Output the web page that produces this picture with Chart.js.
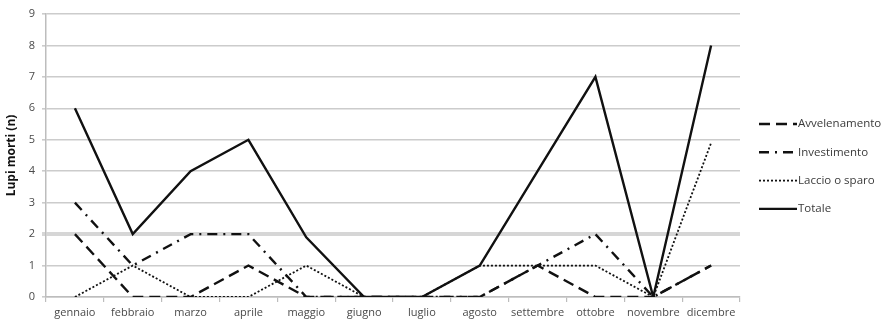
<!DOCTYPE html>
<html>
<head>
<meta charset="utf-8">
<script src="https://cdn.jsdelivr.net/npm/chart.js@4/dist/chart.umd.min.js"></script>
<style>
  html, body { margin: 0; padding: 0; background: #ffffff; }
  #wrap { position: relative; width: 884px; height: 325px; }
</style>
</head>
<body>
<div id="wrap"><canvas id="c" width="884" height="325"></canvas></div>
<script>
// Lupi morti per mese, suddivisi per causa
const mesi = ['gennaio', 'febbraio', 'marzo', 'aprile', 'maggio', 'giugno',
              'luglio', 'agosto', 'settembre', 'ottobre', 'novembre', 'dicembre'];
const avvelenamento = [2, 0, 0, 1, 0, 0, 0, 0, 1, 0, 0, 1];
const investimento  = [3, 1, 2, 2, 0, 0, 0, 0, 1, 2, 0, 1];
const laccioSparo   = [0, 1, 0, 0, 1, 0, 0, 1, 1, 1, 0, 4.9];
const totale        = [6, 2, 4, 5, 1.9, 0, 0, 1, 4, 7, 0, 8];
const yTicks = [0, 1, 2, 3, 4, 5, 6, 7, 8, 9];

const FONT = '"Open Sans", "DejaVu Sans", sans-serif';

const serie = [
  { label: 'Avvelenamento', data: avvelenamento, borderDash: [11, 6], borderWidth: 2.4 },
  { label: 'Investimento', data: investimento, borderDash: [10, 6, 2, 6], borderWidth: 2.4 },
  { label: 'Laccio o sparo', data: laccioSparo, borderDash: [2, 2], borderWidth: 1.8 },
  { label: 'Totale', data: totale, borderDash: [], borderWidth: 2.4 }
];

// Legenda a destra con il campione di linea tratteggiata
const legendaLinee = {
  id: 'legendaLinee',
  afterDraw(chart) {
    const ctx = chart.ctx;
    const x0 = 759, x1 = 797, yStart = 124, step = 28.3;
    ctx.save();
    chart.data.datasets.forEach((ds, i) => {
      const y = yStart + i * step;
      ctx.beginPath();
      ctx.setLineDash(ds.borderDash || []);
      ctx.lineWidth = ds.borderWidth;
      ctx.strokeStyle = '#111';
      ctx.moveTo(x0, y);
      ctx.lineTo(x1, y);
      ctx.stroke();
      ctx.setLineDash([]);
      ctx.fillStyle = '#3a3a3a';
      ctx.font = '11.5px ' + FONT;
      ctx.textBaseline = 'middle';
      ctx.textAlign = 'left';
      ctx.fillText(ds.label, x1 + 1, y);
    });
    ctx.restore();
  }
};

new Chart(document.getElementById('c'), {
  type: 'line',
  data: {
    labels: mesi,
    datasets: serie.map(s => ({
      label: s.label,
      data: s.data,
      borderColor: '#111111',
      backgroundColor: '#111111',
      borderWidth: s.borderWidth,
      borderDash: s.borderDash,
      pointRadius: 0,
      pointHoverRadius: 0,
      tension: 0,
      fill: false
    }))
  },
  options: {
    responsive: false,
    animation: false,
    events: [],
    layout: { padding: { top: 14, right: 144, bottom: 0, left: 0 } },
    plugins: {
      legend: { display: false },
      tooltip: { enabled: false }
    },
    scales: {
      x: {
        type: 'category',
        offset: true,
        grid: {
          offset: true,
          drawOnChartArea: false,
          drawTicks: true,
          tickLength: 5,
          color: '#bdbdbd',
          lineWidth: 1.2
        },
        border: { color: '#bdbdbd', width: 1.5 },
        ticks: {
          color: '#4a4a4a',
          font: { family: FONT, size: 11 },
          padding: 4,
          maxRotation: 0,
          autoSkip: false
        },
        afterFit(scale) { scale.height = 28; }
      },
      y: {
        min: 0,
        max: 9,
        afterBuildTicks(scale) { scale.ticks = yTicks.map(v => ({ value: v })); },
        grid: {
          color: ctx => (ctx.tick && ctx.tick.value === 2) ? '#d6d6d6' : '#cccccc',
          lineWidth: ctx => (ctx.tick && ctx.tick.value === 2) ? 4 : 1.6,
          drawTicks: true,
          tickLength: 4
        },
        border: { color: '#bdbdbd', width: 1.5 },
        ticks: {
          color: '#4a4a4a',
          font: { family: FONT, size: 11 },
          padding: 7
        },
        title: {
          display: true,
          text: 'Lupi morti (n)',
          color: '#111',
          font: { family: FONT, size: 12, weight: 'bold' },
          padding: { top: 4, bottom: 2 }
        },
        afterFit(scale) { scale.width = 46; }
      }
    }
  },
  plugins: [legendaLinee]
});
</script>
</body>
</html>
